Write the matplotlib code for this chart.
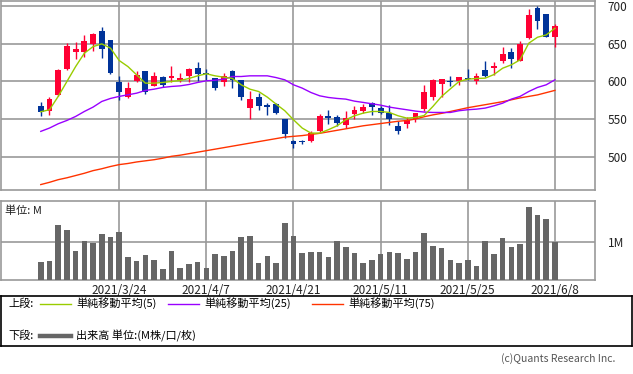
import matplotlib
matplotlib.use("Agg")
import matplotlib.pyplot as plt
import numpy as np

plt.rcParams['font.family'] = ['Noto Sans CJK JP', 'DejaVu Sans']

dates = ["3/11","3/12","3/15","3/16","3/17","3/18","3/19","3/22","3/23","3/24",
         "3/25","3/26","3/29","3/30","3/31","4/1","4/2","4/5","4/6","4/7",
         "4/8","4/9","4/12","4/13","4/14","4/15","4/16","4/19","4/20","4/21",
         "4/22","4/23","4/26","4/27","4/28","4/30","5/6","5/7","5/10","5/11",
         "5/12","5/13","5/14","5/17","5/18","5/19","5/20","5/21","5/24","5/25",
         "5/26","5/27","5/28","5/31","6/1","6/2","6/3","6/4","6/7","6/8"]

opens = [567.5,560,582,617,639.5,639.5,649,667,655,599,
         578.6,600.7,614,594,606,604.6,602,607.7,618,611.3,
         604.6,599,614,602,565,579.5,568.4,570,550,521,
         521,520.3,533.6,553.4,553,541.5,557,561,570.6,565,
         558,541,542.8,550,563,578.6,595.8,599.6,600,603.8,
         601,615.2,618.3,627,639,627.6,657.6,697.4,689.4,659.4]
highs = [572.8,579.5,616,651.4,652.3,661.6,664.7,672.2,655,607.3,
         599.3,613.9,614,612.6,607.3,620.5,611.3,617.9,626.3,616.1,
         604.6,611.7,615.2,602,587.4,584.8,571.1,571.6,550.3,522.5,
         522,534,557,562.3,554.7,560.9,567.5,569.8,572.8,567,
         568.4,546.8,552.5,558,595.4,603.3,603.3,606.8,605.5,616.6,
         611.3,627.2,625,645.7,644.4,653.6,696,700.4,689.4,676.2]
lows = [554.3,555.6,581,615.2,630.2,632,640.8,631.6,610,574.6,
        578,598.5,582.6,593.2,592.3,598.5,598.9,598.5,601.1,602,
        587.9,594,590.5,574.6,549.9,561.4,554.7,557,524.3,511,
        516.8,520,533,542.9,541.1,537.5,549.9,557.4,554.7,557,
        541.5,529.6,538,545.5,561,574.6,579.5,594,594.5,602,
        595.8,606.4,609,624.1,618.3,627,656,670,659,646.1]
closes = [559.6,577,615,647,643,653.6,663,643.5,611.7,586,
          591.4,608.6,586.5,607.3,595,607.3,604.6,616.6,610,610,
          590.5,607,601.5,578.6,577,567.5,565.8,557.4,529.5,516.8,
          519,531.3,554.3,551.7,544.2,551.7,562,566.2,565.3,557.4,
          550.3,533.6,548.6,557.8,586.1,602,603.3,598.7,605.5,603,
          607.3,607.7,620.1,636.4,629,649.7,687.6,680.6,659.4,673.5]

ma5 = [559.6,562.3,580,599.8,619.6,637.3,646.1,649.7,644,627.6,
       619.6,608.6,597.6,597.6,598.5,599.8,601.1,603.8,607.3,610,
       607.3,605.5,603.8,595.4,589.6,586.5,579,569.8,561,549,
       538,531.3,531.3,535.8,541,549,554.3,557.8,560,560,
       558.7,554.3,551.2,552,554.7,566.7,580,590,599.8,602.9,
       603.8,604.2,609,617.4,621.9,628.5,650.6,658.5,661.6,670.4]
ma25 = [533.6,538,543.7,548.1,553.4,560,565.8,573.3,577.3,580,
        582.1,584.3,587.9,589.6,591.9,593.2,594,595.8,598.5,600.7,
        601.5,602.9,606.4,606.4,607.3,607.3,607.3,605,602,595.4,
        591,585.2,580.8,578.6,577.3,576.4,573.7,572,570.2,568.4,
        565.8,564,562.3,560.5,559.2,558.7,558.7,558.7,561,562.3,
        563.1,564.5,567.5,571,576.4,580,586.5,591.9,595.4,602]
ma75 = [463,466,469.5,472,475,478,481.5,484,487,489.5,
        491,493,494.5,496,498,500.5,502,504,506,508,
        510,512,514,516,518,520,522,524,526,527,
        528,529.5,531,533,535,537,539,541,542.5,544,
        545.5,547,548,550,553,555.5,557.5,560,562.5,565,
        567,569,571,573,575.5,578,580,582,585,588]

volume = [0.48,0.51,1.46,1.32,0.77,1.04,0.98,1.22,1.14,1.27,
          0.61,0.51,0.67,0.54,0.30,0.77,0.32,0.43,0.48,0.32,
          0.69,0.64,0.77,1.14,1.17,0.46,0.64,0.46,1.51,1.17,
          0.72,0.75,0.75,0.61,1.04,0.88,0.72,0.46,0.54,0.69,
          0.75,0.72,0.56,0.75,1.25,0.90,0.85,0.54,0.46,0.54,
          0.38,1.04,0.69,1.11,0.88,0.96,1.93,1.72,1.61,1.01]

tick_dates = ["3/24", "4/7", "4/21", "5/11", "5/25", "6/8"]
tick_labels = ["2021/3/24", "2021/4/7", "2021/4/21", "2021/5/11", "2021/5/25", "2021/6/8"]
price_ticks = [500, 550, 600, 650, 700]

W, H = 633, 374
fig = plt.figure(figsize=(W / 100, H / 100), dpi=100)
fig.patch.set_facecolor('white')

def fr(x0, y0, x1, y1):
    return [x0 / W, 1 - y1 / H, (x1 - x0) / W, (y1 - y0) / H]

GRID = '#999999'
UP = '#ff0033'
DOWN = '#003399'
x = np.arange(len(dates))
tick_pos = [dates.index(d) for d in tick_dates]
xlim = (-4.6, 63.6)

# ---- price panel
ax = fig.add_axes(fr(0.7, 1, 595, 190.3))
ax.set_xlim(*xlim)
ax.set_ylim(455.4, 706.6)
for s in ax.spines.values():
    s.set_color(GRID)
    s.set_linewidth(1.2)
ax.set_xticks(tick_pos)
ax.set_xticklabels([])
ax.set_yticks(price_ticks)
ax.yaxis.tick_right()
ax.tick_params(axis='both', length=0)
ax.tick_params(axis='y', pad=9, labelsize=8.5, labelcolor='#222222')
ax.grid(True, color=GRID, linewidth=1.2)
ax.set_axisbelow(True)

o = np.array(opens); c = np.array(closes)
hi = np.array(highs); lo = np.array(lows)
cols = [UP if cc >= oo else DOWN for oo, cc in zip(o, c)]
ax.vlines(x, lo, hi, colors=cols, linewidth=1.0, zorder=3)
bot = np.minimum(o, c)
hgt = np.maximum(np.abs(c - o), 1.2)
ax.bar(x, hgt, bottom=bot, width=0.66, color=cols, linewidth=0, zorder=4)

ax.plot(x, ma75, color='#ff3300', linewidth=1.0, zorder=5)
ax.plot(x, ma25, color='#9900ff', linewidth=1.0, zorder=5)
ax.plot(x, ma5, color='#99cc00', linewidth=1.0, zorder=5)

# ---- volume panel
av = fig.add_axes(fr(0.7, 201, 595, 280.3))
av.set_xlim(*xlim)
av.set_ylim(0, 2.087)
for s in av.spines.values():
    s.set_color(GRID)
    s.set_linewidth(1.2)
av.set_xticks(tick_pos)
av.set_xticklabels(tick_labels, fontsize=8.5, color='#222222')
av.set_yticks([1])
av.set_yticklabels(['1M'])
av.yaxis.tick_right()
av.tick_params(axis='both', length=0)
av.tick_params(axis='y', pad=9, labelsize=8.5, labelcolor='#222222')
av.tick_params(axis='x', pad=3)
av.grid(True, color=GRID, linewidth=1.2)
av.set_axisbelow(True)
av.bar(x, volume, width=0.63, color='#666666', linewidth=0, zorder=3)
av.text(0.008, 0.88, '単位: M', transform=av.transAxes, fontsize=8,
        va='center', ha='left', color='#222222')

# ---- legend box
al = fig.add_axes(fr(0.7, 295.5, 631.5, 346))
al.set_xlim(0.7, 631.5)
al.set_ylim(346, 295.5)
al.set_xticks([]); al.set_yticks([])
for s in al.spines.values():
    s.set_color('black')
    s.set_linewidth(1.2)
fs = 8
al.text(8, 303.5, '上段:', fontsize=fs, va='center', ha='left')
al.plot([40, 71], [303.5, 303.5], color='#99cc00', linewidth=1.0)
al.text(76, 303.5, '単純移動平均(5)', fontsize=fs, va='center', ha='left')
al.plot([168, 199], [303.5, 303.5], color='#9900ff', linewidth=1.0)
al.text(204, 303.5, '単純移動平均(25)', fontsize=fs, va='center', ha='left')
al.plot([312, 343], [303.5, 303.5], color='#ff3300', linewidth=1.0)
al.text(348, 303.5, '単純移動平均(75)', fontsize=fs, va='center', ha='left')
al.text(8, 336, '下段:', fontsize=fs, va='center', ha='left')
al.plot([40, 71], [336, 336], color='#666666', linewidth=3.2)
al.text(76, 336, '出来高 単位:(M株/口/枚)', fontsize=fs, va='center', ha='left')

fig.text(615 / W, 1 - 358.5 / H, '(c)Quants Research Inc.', fontsize=7.5,
         ha='right', va='center', color='#555555')

fig.savefig('out.png', dpi=100, facecolor='white')
